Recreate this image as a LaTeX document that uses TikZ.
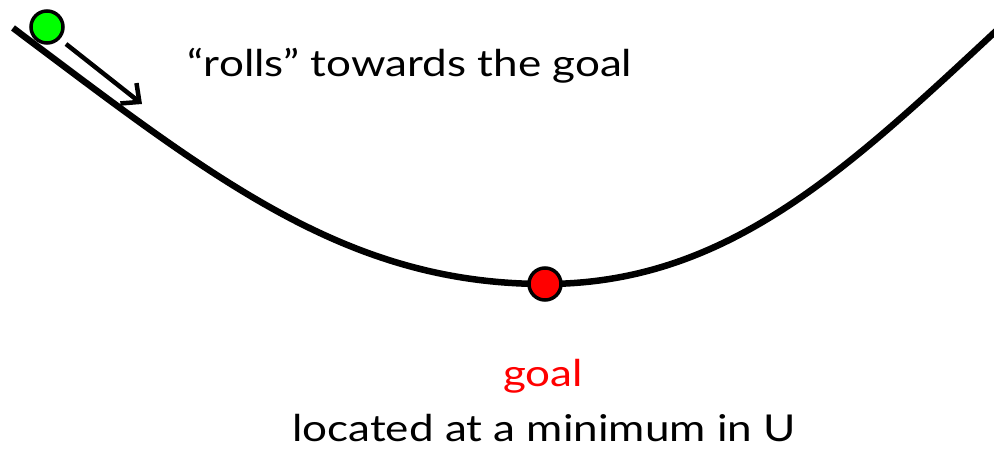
\documentclass[tikz,border=0pt]{standalone}
\usepackage{fontspec}
\setmainfont{Lato}[FakeStretch=1.19]
\usetikzlibrary{arrows.meta}
\begin{document}
\begin{tikzpicture}[x=1pt,y=-1pt,
  curve/.style={line width=6.5pt},
  ball/.style={circle, draw=black, line width=3.5pt, minimum size=32pt, inner sep=0pt},
  arr/.style={line width=4.5pt, -{Straight Barb[length=14pt,width=26pt,line width=4.5pt]}},
  lbl/.style={font=\fontsize{37}{44}\selectfont, anchor=base, inner sep=0pt}]
\useasboundingbox (0,0) rectangle (994,449);
\coordinate (start) at (13,28);
\coordinate (bottom) at (545,284);
\coordinate (end) at (996,31);
\draw[curve] (start) .. controls (213,178) and (345,284) .. (bottom)
  .. controls (725,284) and (844,172.5) .. (end);
\node[ball, fill=red] (goalball) at (bottom) {};
\node[ball, fill=green] (ball) at (47,27) {};
\coordinate (a0) at (66,44);
\coordinate (a1) at (142,104);
\draw[arr] (a0) -- (a1);
\node[lbl] (rolls) at (410,77) {“rolls” towards the goal};
\node[lbl, text=red] (goal) at (543,386) {goal};
\node[lbl] (loc) at (544,441) {located at a minimum in U};
\end{tikzpicture}
\end{document}
